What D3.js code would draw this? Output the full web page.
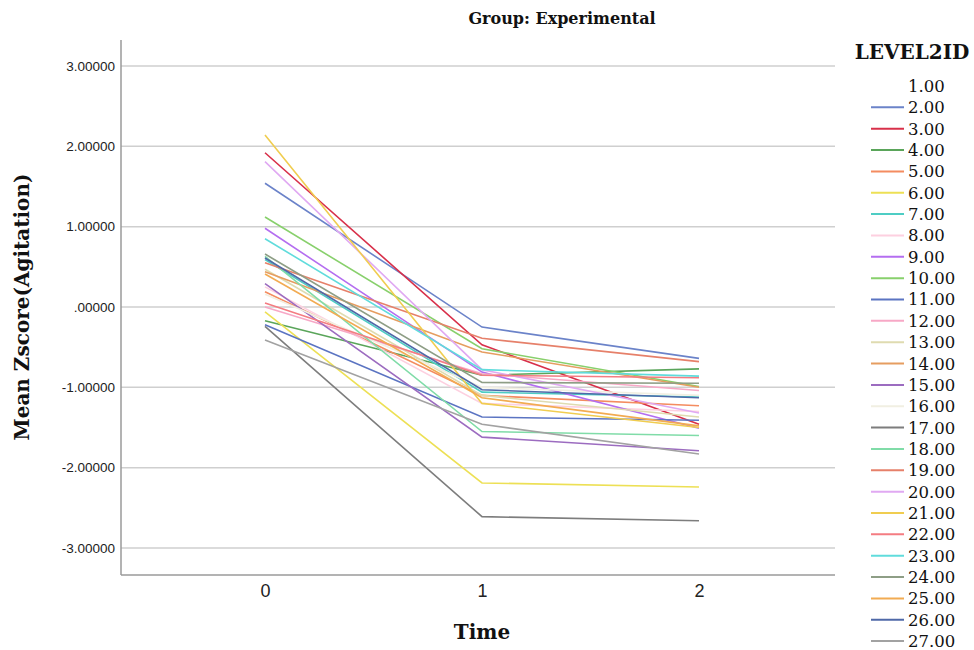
<!DOCTYPE html>
<html>
<head>
<meta charset="utf-8">
<script src="https://cdn.jsdelivr.net/npm/d3@7"></script>
<style>
  html, body { margin: 0; padding: 0; background: #fff; }
  svg { display: block; }
</style>
</head>
<body>
<svg id="chart" width="974" height="650"></svg>
<script>
// Time points on the x axis
const times = [0, 1, 2];

// Participant IDs (LEVEL2ID); ID 1 has no data in this group
const ids = ["1.00","2.00","3.00","4.00","5.00","6.00","7.00","8.00","9.00","10.00",
  "11.00","12.00","13.00","14.00","15.00","16.00","17.00","18.00","19.00","20.00",
  "21.00","22.00","23.00","24.00","25.00","26.00","27.00"];

// Series colours, one per ID
const colors = [null, "#6b83c9", "#d8304a", "#5aa55a", "#f48c60", "#ede055", "#4ecdc4",
  "#fdd0e0", "#b46ef0", "#88d06c", "#5b74c2", "#f7a8c6", "#dfdbb0", "#e69d60",
  "#9c6cc0", "#f1efe2", "#7d7d7d", "#80dca8", "#e6806a", "#e0a9f2", "#f0cd50",
  "#f47c82", "#60dcdc", "#8e9e86", "#f2ab52", "#4f69a8", "#a2a2a2"];

// Mean Zscore(Agitation) at time 0, 1, 2 per ID
const t0 = [null, 1.54, 1.92, -0.17, 0.19, -0.06, 0.59, 0.25, 0.98, 1.12,
  -0.22, 0.00, 0.47, 0.44, 0.29, 0.16, -0.24, 0.63, 0.55, 1.81,
  2.14, 0.05, 0.85, 0.66, 0.41, 0.61, -0.41];
const t1 = [null, -0.25, -0.47, -0.85, -1.10, -2.19, -1.06, -1.20, -0.81, -0.52,
  -1.37, -0.83, -1.10, -0.56, -1.62, -1.00, -2.61, -1.55, -0.39, -0.78,
  -1.20, -0.85, -0.78, -0.94, -1.13, -1.03, -1.46];
const t2 = [null, -0.64, -1.46, -0.77, -1.23, -2.24, -1.12, -1.30, -1.51, -0.99,
  -1.41, -1.04, -1.37, -1.00, -1.79, -1.10, -2.66, -1.60, -0.68, -1.32,
  -1.50, -0.88, -0.86, -0.95, -1.48, -1.13, -1.83];

// Y axis tick values and labels
const yTicks = [-3, -2, -1, 0, 1, 2, 3];
const yTickLabels = ["-3.00000", "-2.00000", "-1.00000", ".00000", "1.00000", "2.00000", "3.00000"];

const svg = d3.select("#chart");
const plot = { left: 121, right: 835, top: 40, bottom: 575 };

const x = d3.scalePoint()
  .domain(times)
  .range([265, 699]);

const y = d3.scaleLinear()
  .domain([-3, 3])
  .range([548, 66]);

const slab = "'DejaVu Serif', serif";
const sans = "'Liberation Sans', Arial, sans-serif";

// Horizontal gridlines
svg.append("g")
  .selectAll("line")
  .data(yTicks)
  .join("line")
  .attr("x1", plot.left)
  .attr("x2", plot.right)
  .attr("y1", d => y(d))
  .attr("y2", d => y(d))
  .attr("stroke", "#cfcfcf")
  .attr("stroke-width", 1.5);

// Y axis
const yAxis = svg.append("g")
  .attr("transform", `translate(${plot.left},0)`)
  .call(d3.axisLeft(y).tickValues(yTicks).tickSize(0).tickPadding(6)
    .tickFormat(d => yTickLabels[yTicks.indexOf(d)]));
yAxis.select(".domain").remove();
yAxis.selectAll("text")
  .attr("font-family", sans)
  .attr("font-size", 13.5)
  .attr("fill", "#222");

// X axis
const xAxis = svg.append("g")
  .attr("transform", `translate(0,${plot.bottom})`)
  .call(d3.axisBottom(x).tickSize(0).tickPadding(9));
xAxis.select(".domain").remove();
xAxis.selectAll("text")
  .attr("font-family", sans)
  .attr("font-size", 18)
  .attr("fill", "#222");

// Axis frame lines
svg.append("line")
  .attr("x1", plot.left).attr("x2", plot.left)
  .attr("y1", plot.top).attr("y2", plot.bottom)
  .attr("stroke", "#9a9a9a").attr("stroke-width", 1.5);
svg.append("line")
  .attr("x1", plot.left).attr("x2", plot.right)
  .attr("y1", plot.bottom).attr("y2", plot.bottom)
  .attr("stroke", "#9a9a9a").attr("stroke-width", 1.5);

// Series lines
const series = ids.map((id, i) => ({
  id,
  color: colors[i],
  values: t0[i] === null ? [] : [t0[i], t1[i], t2[i]].map((v, k) => ({ t: times[k], v }))
}));

const line = d3.line().x(d => x(d.t)).y(d => y(d.v));

svg.append("g")
  .selectAll("path")
  .data(series.filter(s => s.values.length))
  .join("path")
  .attr("d", s => line(s.values))
  .attr("fill", "none")
  .attr("stroke", s => s.color)
  .attr("stroke-width", 1.6);

// Titles
svg.append("text")
  .attr("x", 562).attr("y", 24)
  .attr("text-anchor", "middle")
  .attr("font-family", slab).attr("font-weight", "bold").attr("font-size", 16)
  .attr("fill", "#111")
  .text("Group: Experimental");

svg.append("text")
  .attr("transform", `translate(29,${y(0)}) rotate(-90)`)
  .attr("text-anchor", "middle")
  .attr("font-family", slab).attr("font-weight", "bold").attr("font-size", 20)
  .attr("fill", "#111")
  .text("Mean Zscore(Agitation)");

svg.append("text")
  .attr("x", x(1)).attr("y", 639)
  .attr("text-anchor", "middle")
  .attr("font-family", slab).attr("font-weight", "bold").attr("font-size", 20)
  .attr("fill", "#111")
  .text("Time");

// Legend
const legend = svg.append("g");
legend.append("text")
  .attr("x", 912).attr("y", 59)
  .attr("text-anchor", "middle")
  .attr("font-family", slab).attr("font-weight", "bold").attr("font-size", 20)
  .attr("fill", "#111")
  .text("LEVEL2ID");

const rowY = i => 86 + i * 21.35;
const rows = legend.selectAll("g.row")
  .data(series)
  .join("g")
  .attr("class", "row")
  .attr("transform", (d, i) => `translate(0,${rowY(i)})`);

rows.filter(d => d.color)
  .append("line")
  .attr("x1", 871).attr("x2", 904)
  .attr("y1", 0).attr("y2", 0)
  .attr("stroke", d => d.color)
  .attr("stroke-width", 2);

rows.append("text")
  .attr("x", 908).attr("y", 0)
  .attr("dy", "0.36em")
  .attr("font-family", slab).attr("font-size", 16.5)
  .attr("fill", "#111")
  .text(d => d.id);
</script>
</body>
</html>
